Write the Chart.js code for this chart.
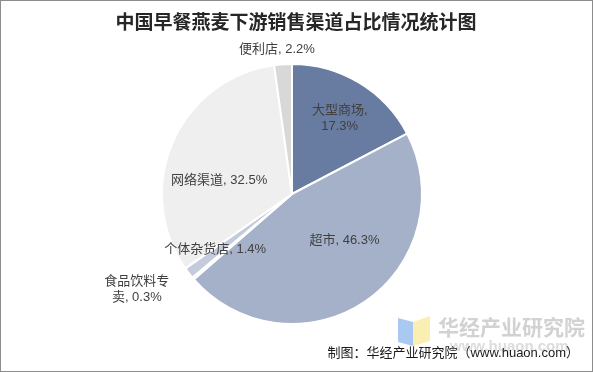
<!DOCTYPE html>
<html>
<head>
<meta charset="utf-8">
<script src="https://cdn.jsdelivr.net/npm/chart.js@4"></script>
<style>
  html, body { margin: 0; padding: 0; background: #fff; }
  #wrap { width: 593px; height: 372px; }
</style>
</head>
<body>
<div id="wrap"><canvas id="pie" width="593" height="372"></canvas></div>
<script>
const categories = ['大型商场', '超市', '食品饮料专卖', '个体杂货店', '网络渠道', '便利店'];
const shares = [17.3, 46.3, 0.3, 1.4, 32.5, 2.2];
const sliceColors = ['#687ba1', '#a5b1c9', '#d5dbe7', '#c3cbdc', '#efefef', '#d8d8d8'];

// label placement: fraction of radius, angle nudge (deg), line break
const labelLayout = [
  { f: 0.69, dA: 1, split: 'after-name' },
  { f: 0.54, dA: -14 },
  { f: 1.40, dA: 9, split: 5 },
  { f: 0.73, dA: 1.5 },
  { f: 0.57, dA: -13 },
  { f: 1.12, dA: -2 }
];

const FONT = '"Liberation Sans", "Noto Sans CJK SC", sans-serif';

function labelLines(i) {
  const name = categories[i];
  const val = shares[i].toFixed(1) + '%';
  const s = labelLayout[i].split;
  if (s === 'after-name') return [name + ',', val];
  if (typeof s === 'number') return [name.slice(0, s), name.slice(s) + ', ' + val];
  return [name + ', ' + val];
}

const decorPlugin = {
  id: 'decor',
  beforeDraw(chart) {
    const ctx = chart.ctx;
    ctx.save();
    // watermark logo
    ctx.fillStyle = '#a9c9f2';
    ctx.beginPath();
    ctx.moveTo(398, 318); ctx.lineTo(413, 322); ctx.lineTo(413, 346); ctx.lineTo(398, 342);
    ctx.closePath(); ctx.fill();
    ctx.fillStyle = '#fbeeb2';
    ctx.beginPath();
    ctx.moveTo(413, 322); ctx.lineTo(430, 316); ctx.lineTo(430, 341); ctx.lineTo(413, 346);
    ctx.closePath(); ctx.fill();
    ctx.fillStyle = '#d2d2d2';
    ctx.font = 'bold 21px "Noto Sans CJK SC", sans-serif';
    ctx.textAlign = 'left';
    ctx.textBaseline = 'middle';
    ctx.fillText('华经产业研究院', 438, 327);
    ctx.fillStyle = '#dcdcdc';
    ctx.font = 'bold 15px ' + FONT;
    ctx.fillText('www.huaon.com', 450, 347);
    ctx.restore();
  },
  afterDraw(chart) {
    const ctx = chart.ctx;
    ctx.save();
    // border
    ctx.strokeStyle = '#8c8c8c';
    ctx.lineWidth = 1;
    ctx.strokeRect(0.5, 0.5, 592, 371);
    // title
    ctx.fillStyle = '#262626';
    ctx.font = 'bold 19px "Noto Sans CJK SC", serif';
    ctx.textAlign = 'center';
    ctx.textBaseline = 'middle';
    ctx.fillText('中国早餐燕麦下游销售渠道占比情况统计图', 296, 22);
    // slice labels
    const meta = chart.getDatasetMeta(0);
    ctx.font = '13px ' + FONT;
    ctx.fillStyle = '#404040';
    meta.data.forEach((arc, i) => {
      const lay = labelLayout[i];
      const mid = (arc.startAngle + arc.endAngle) / 2 + lay.dA * Math.PI / 180;
      const r = arc.outerRadius * lay.f;
      const x = arc.x + Math.cos(mid) * r;
      const y = arc.y + Math.sin(mid) * r;
      const lines = labelLines(i);
      const lh = 16;
      lines.forEach((t, k) => {
        ctx.fillText(t, x, y + (k - (lines.length - 1) / 2) * lh);
      });
    });
    // footer
    ctx.fillStyle = '#1a1a1a';
    ctx.font = '13px ' + FONT;
    ctx.textAlign = 'right';
    ctx.fillText('制图：华经产业研究院（www.huaon.com）', 579, 353);
    ctx.restore();
  }
};

new Chart(document.getElementById('pie'), {
  type: 'pie',
  data: {
    labels: categories,
    datasets: [{
      data: shares,
      backgroundColor: sliceColors,
      borderColor: '#ffffff',
      borderWidth: 2
    }]
  },
  options: {
    responsive: false,
    animation: false,
    layout: { padding: { top: 63, bottom: 47, left: 161, right: 170 } },
    plugins: {
      legend: { display: false },
      title: { display: false },
      tooltip: { enabled: false }
    }
  },
  plugins: [decorPlugin]
});
</script>
</body>
</html>
